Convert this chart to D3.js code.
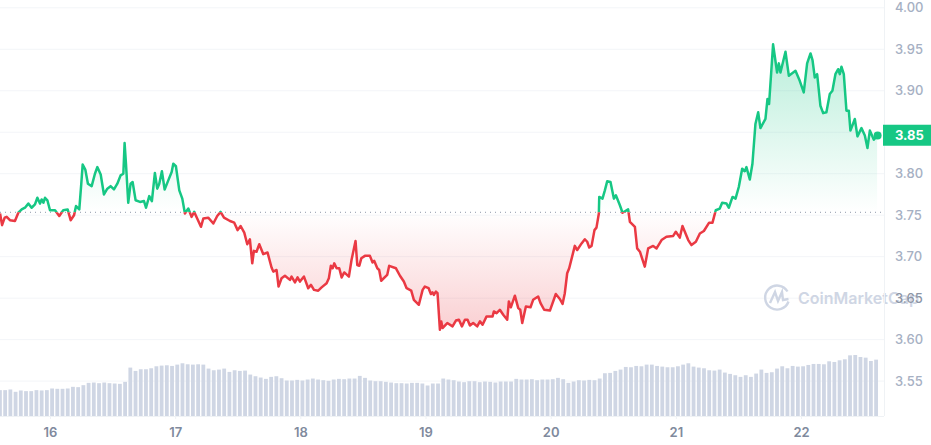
<!DOCTYPE html>
<html>
<head>
<meta charset="utf-8">
<script src="https://cdn.jsdelivr.net/npm/d3@7/dist/d3.min.js"></script>
<style>
  html, body { margin: 0; padding: 0; background: #fff; overflow: hidden; }
  svg { display: block; font-family: Inter, "Noto Sans", sans-serif; }
</style>
</head>
<body>
<div id="chart"></div>
<script>
const days = [
  15.601,15.617,15.638,15.654,15.680,15.720,15.747,15.774,15.800,15.827,15.853,15.880,15.899,15.920,15.933,15.947,15.960,15.979,
  16.000,16.040,16.074,16.106,16.141,16.165,16.192,16.208,16.234,16.250,16.261,16.282,16.303,16.333,16.359,16.378,16.405,16.431,16.458,16.484,16.511,16.538,16.564,16.586,16.596,16.607,16.625,16.644,16.660,16.684,16.719,16.751,16.767,16.793,16.814,16.838,16.857,16.873,16.894,16.916,16.945,16.972,16.985,
  17.006,17.033,17.057,17.078,17.105,17.131,17.152,17.176,17.206,17.225,17.264,17.305,17.336,17.363,17.390,17.438,17.472,17.499,17.523,17.552,17.576,17.597,17.616,17.629,17.650,17.672,17.704,17.738,17.770,17.784,17.810,17.826,17.850,17.877,17.917,17.930,17.957,17.978,17.997,
  18.029,18.063,18.085,18.109,18.143,18.170,18.210,18.228,18.244,18.258,18.271,18.290,18.311,18.330,18.351,18.388,18.409,18.441,18.455,18.471,18.487,18.516,18.556,18.577,18.590,18.615,18.630,18.646,18.694,18.710,18.764,18.796,18.827,18.849,18.886,18.907,18.947,18.977,18.995,
  19.025,19.043,19.056,19.067,19.083,19.096,19.115,19.126,19.136,19.174,19.216,19.243,19.267,19.291,19.315,19.336,19.355,19.381,19.413,19.435,19.456,19.488,19.536,19.546,19.568,19.594,19.621,19.653,19.666,19.682,19.714,19.741,19.757,19.773,19.802,19.839,19.860,19.900,19.919,19.948,19.994,
  20.041,20.073,20.095,20.113,20.132,20.148,20.193,20.212,20.247,20.273,20.292,20.308,20.327,20.350,20.366,20.385,20.388,20.414,20.433,20.452,20.478,20.505,20.521,20.553,20.574,20.619,20.633,20.673,20.691,20.713,20.752,20.779,20.819,20.846,20.886,20.925,20.979,
  21.000,21.032,21.053,21.099,21.125,21.160,21.192,21.224,21.266,21.293,21.319,21.351,21.370,21.405,21.423,21.453,21.477,21.503,21.530,21.551,21.564,21.591,21.612,21.636,21.658,21.676,21.716,21.732,21.745,21.777,21.809,21.823,21.836,21.876,21.903,21.956,21.990,
  22.022,22.049,22.076,22.092,22.110,22.129,22.155,22.177,22.203,22.230,22.251,22.275,22.297,22.310,22.323,22.342,22.363,22.382,22.395,22.430,22.451,22.483,22.510,22.531,22.550,22.582,22.608
];
const prices = [
  3.752,3.738,3.747,3.748,3.744,3.743,3.753,3.757,3.759,3.764,3.759,3.763,3.771,3.764,3.769,3.765,3.771,3.768,
  3.756,3.756,3.749,3.756,3.757,3.744,3.750,3.761,3.757,3.788,3.811,3.805,3.788,3.785,3.800,3.808,3.799,3.775,3.782,3.785,3.781,3.788,3.798,3.800,3.837,3.812,3.765,3.788,3.790,3.768,3.766,3.767,3.759,3.773,3.767,3.801,3.782,3.788,3.803,3.781,3.792,3.802,3.812,
  3.809,3.780,3.770,3.752,3.758,3.748,3.754,3.746,3.736,3.746,3.747,3.740,3.749,3.754,3.747,3.743,3.741,3.732,3.737,3.729,3.715,3.721,3.692,3.707,3.706,3.715,3.703,3.705,3.687,3.682,3.684,3.664,3.674,3.677,3.672,3.676,3.669,3.675,3.670,
  3.676,3.662,3.666,3.660,3.659,3.663,3.668,3.674,3.689,3.686,3.692,3.686,3.686,3.675,3.681,3.676,3.696,3.719,3.690,3.689,3.698,3.701,3.701,3.693,3.695,3.686,3.684,3.671,3.678,3.689,3.686,3.677,3.670,3.662,3.659,3.648,3.642,3.660,3.664,
  3.662,3.655,3.657,3.654,3.658,3.656,3.612,3.622,3.614,3.620,3.616,3.623,3.624,3.616,3.624,3.624,3.617,3.620,3.616,3.622,3.618,3.628,3.628,3.634,3.632,3.636,3.630,3.624,3.646,3.639,3.653,3.638,3.636,3.620,3.640,3.639,3.648,3.652,3.644,3.636,3.635,
  3.655,3.649,3.643,3.656,3.680,3.686,3.713,3.708,3.716,3.721,3.718,3.711,3.713,3.732,3.735,3.752,3.772,3.770,3.780,3.791,3.790,3.770,3.774,3.762,3.753,3.757,3.742,3.736,3.710,3.706,3.688,3.710,3.713,3.710,3.720,3.724,3.725,
  3.730,3.723,3.737,3.720,3.714,3.718,3.728,3.731,3.741,3.741,3.756,3.758,3.765,3.764,3.759,3.772,3.770,3.784,3.806,3.803,3.808,3.793,3.812,3.860,3.874,3.855,3.866,3.890,3.884,3.956,3.922,3.933,3.922,3.947,3.918,3.924,3.912,
  3.898,3.933,3.945,3.937,3.916,3.920,3.882,3.873,3.874,3.896,3.900,3.920,3.926,3.920,3.929,3.920,3.876,3.876,3.852,3.866,3.845,3.855,3.846,3.831,3.852,3.841,3.846
];
// one volume per hour, first bar at 15.6
const volumes = [
  78,78,80,73,77,75,75,78,77,78,83,82,82,83,88,87,93,100,101,99,
  101,99,98,97,103,146,136,141,141,144,150,152,153,151,155,159,156,155,156,155,
  143,138,140,143,133,138,136,137,125,120,116,112,118,120,114,107,107,109,107,110,
  113,110,108,106,110,112,111,113,113,121,115,107,105,105,103,101,99,99,98,100,
  100,98,92,98,98,113,110,108,104,102,105,105,102,104,103,101,104,104,104,112,
  110,110,111,108,110,110,111,115,111,100,104,108,107,109,108,113,129,130,136,140,
  148,147,151,150,155,155,151,149,147,147,150,155,159,149,146,144,138,137,140,131,
  127,123,118,123,118,128,140,130,132,143,150,144,151,149,150,154,157,157,156,165,
  163,168,171,183,184,178,176,166,170
];
const yTicks = [3.55, 3.60, 3.65, 3.70, 3.75, 3.80, 3.85, 3.90, 3.95, 4.00];
const dayTicks = [16, 17, 18, 19, 20, 21, 22];
const baseline = 3.7535;
const lastPrice = 3.85;

const width = 931;
const height = 445;
const axisX = 884;
const bottomY = 416;
const green = '#16c784';
const red = '#ea3943';

const svg = d3.select('#chart').append('svg')
  .attr('width', width)
  .attr('height', height);

const x = d3.scaleLinear().domain([16, 22]).range([50, 801]);
const y = d3.scaleLinear().domain([3.5, 4.0]).range([422.6, 7.8]);
const yVolume = d3.scaleLinear().domain([0, 184]).range([bottomY, 355]);

const defs = svg.append('defs');
defs.append('clipPath').attr('id', 'above').append('rect')
  .attr('x', 0).attr('y', 0).attr('width', axisX).attr('height', y(baseline));
defs.append('clipPath').attr('id', 'below').append('rect')
  .attr('x', 0).attr('y', y(baseline)).attr('width', axisX).attr('height', height - y(baseline));

const greenGradient = defs.append('linearGradient').attr('id', 'greenFill')
  .attr('gradientUnits', 'userSpaceOnUse')
  .attr('x1', 0).attr('x2', 0).attr('y1', y(d3.max(prices))).attr('y2', y(baseline));
greenGradient.append('stop').attr('offset', 0).attr('stop-color', green).attr('stop-opacity', 0.3);
greenGradient.append('stop').attr('offset', 1).attr('stop-color', green).attr('stop-opacity', 0);

const redGradient = defs.append('linearGradient').attr('id', 'redFill')
  .attr('gradientUnits', 'userSpaceOnUse')
  .attr('x1', 0).attr('x2', 0).attr('y1', y(baseline)).attr('y2', y(d3.min(prices)));
redGradient.append('stop').attr('offset', 0).attr('stop-color', red).attr('stop-opacity', 0);
redGradient.append('stop').attr('offset', 1).attr('stop-color', red).attr('stop-opacity', 0.24);

// grid lines
svg.append('g').selectAll('line')
  .data(yTicks)
  .enter().append('line')
  .attr('x1', 0).attr('x2', axisX)
  .attr('y1', d => y(d)).attr('y2', d => y(d))
  .attr('stroke', '#f3f5f8');

// watermark goes under the axis labels
const mark = svg.append('g').attr('transform', 'translate(777,298)');
mark.append('path')
  .attr('d', 'M10.5,-6.5 A12,12 0 1,0 11.5,3.5')
  .attr('fill', 'none').attr('stroke', '#cfd6e4').attr('stroke-width', 2.4);
mark.append('path')
  .attr('d', 'M-7,5 L-2,-6 L1,3 L5,-6 L6,2 L11.5,1')
  .attr('fill', 'none').attr('stroke', '#cfd6e4').attr('stroke-width', 2.4);
svg.append('text')
  .attr('x', 798).attr('y', 304)
  .attr('font-size', 16).attr('font-weight', 600)
  .attr('fill', '#cfd6e4')
  .text('CoinMarketCap');

// volume bars
svg.append('g').selectAll('rect')
  .data(volumes)
  .enter().append('rect')
  .attr('x', (d, i) => x(15.6 + i / 24) - 1.9)
  .attr('y', d => yVolume(d))
  .attr('width', 3.8)
  .attr('height', d => bottomY - yVolume(d))
  .attr('fill', '#cfd6e4');

const points = days.map((d, i) => ({ day: d, price: prices[i] }));
const area = d3.area().x(d => x(d.day)).y0(y(baseline)).y1(d => y(d.price));
const line = d3.line().x(d => x(d.day)).y(d => y(d.price));

svg.append('path').attr('d', area(points)).attr('fill', 'url(#greenFill)').attr('clip-path', 'url(#above)');
svg.append('path').attr('d', area(points)).attr('fill', 'url(#redFill)').attr('clip-path', 'url(#below)');

// dotted reference line
svg.append('line')
  .attr('x1', 0).attr('x2', axisX)
  .attr('y1', y(baseline)).attr('y2', y(baseline))
  .attr('stroke', '#8f98aa')
  .attr('stroke-dasharray', '1,4');

svg.append('path').attr('d', line(points)).attr('fill', 'none').attr('stroke', green)
  .attr('stroke-width', 2.5).attr('stroke-linejoin', 'round').attr('clip-path', 'url(#above)');
svg.append('path').attr('d', line(points)).attr('fill', 'none').attr('stroke', red)
  .attr('stroke-width', 2.5).attr('stroke-linejoin', 'round').attr('clip-path', 'url(#below)');

// x axis
const xAxis = svg.append('g')
  .attr('transform', `translate(0, ${bottomY})`)
  .call(d3.axisBottom(x).tickValues(dayTicks).tickFormat(d3.format('d')).tickSize(3).tickPadding(9));
xAxis.select('.domain').attr('d', `M0,0.5H${axisX}`).attr('stroke', '#eff2f5');
xAxis.selectAll('line').attr('stroke', '#eff2f5');
xAxis.selectAll('text')
  .attr('font-size', 13).attr('font-weight', 600).attr('font-family', 'Inter')
  .attr('fill', '#808a9d');

// y axis on the right, the 3.85 label is the highlighted one below
const yAxis = svg.append('g')
  .attr('transform', `translate(${axisX}, 0)`)
  .call(d3.axisRight(y)
    .tickValues(yTicks.filter(d => d !== lastPrice))
    .tickFormat(d3.format('.2f')).tickSize(0).tickPadding(11));
yAxis.select('.domain').attr('d', `M0.5,0V${bottomY}`).attr('stroke', '#eff2f5');
yAxis.selectAll('text')
  .attr('font-size', 13).attr('font-weight', 500).attr('font-family', 'Inter')
  .attr('fill', '#a6b0c3');
yAxis.selectAll('.tick').filter(d => d === 3.65).select('text').attr('fill', '#8d95a5');

// last price marker and label
svg.append('circle')
  .attr('cx', x(days[days.length - 1]) + 0.5)
  .attr('cy', y(prices[prices.length - 1]))
  .attr('r', 4)
  .attr('fill', green);
svg.append('rect')
  .attr('x', axisX - 1).attr('y', y(lastPrice) - 7.5)
  .attr('width', width - axisX + 1).attr('height', 21)
  .attr('fill', green);
svg.append('text')
  .attr('x', axisX + 11).attr('y', y(lastPrice) + 7.5)
  .attr('font-size', 13).attr('font-weight', 700)
  .attr('fill', '#fff')
  .text(lastPrice.toFixed(2));
</script>
</body>
</html>
